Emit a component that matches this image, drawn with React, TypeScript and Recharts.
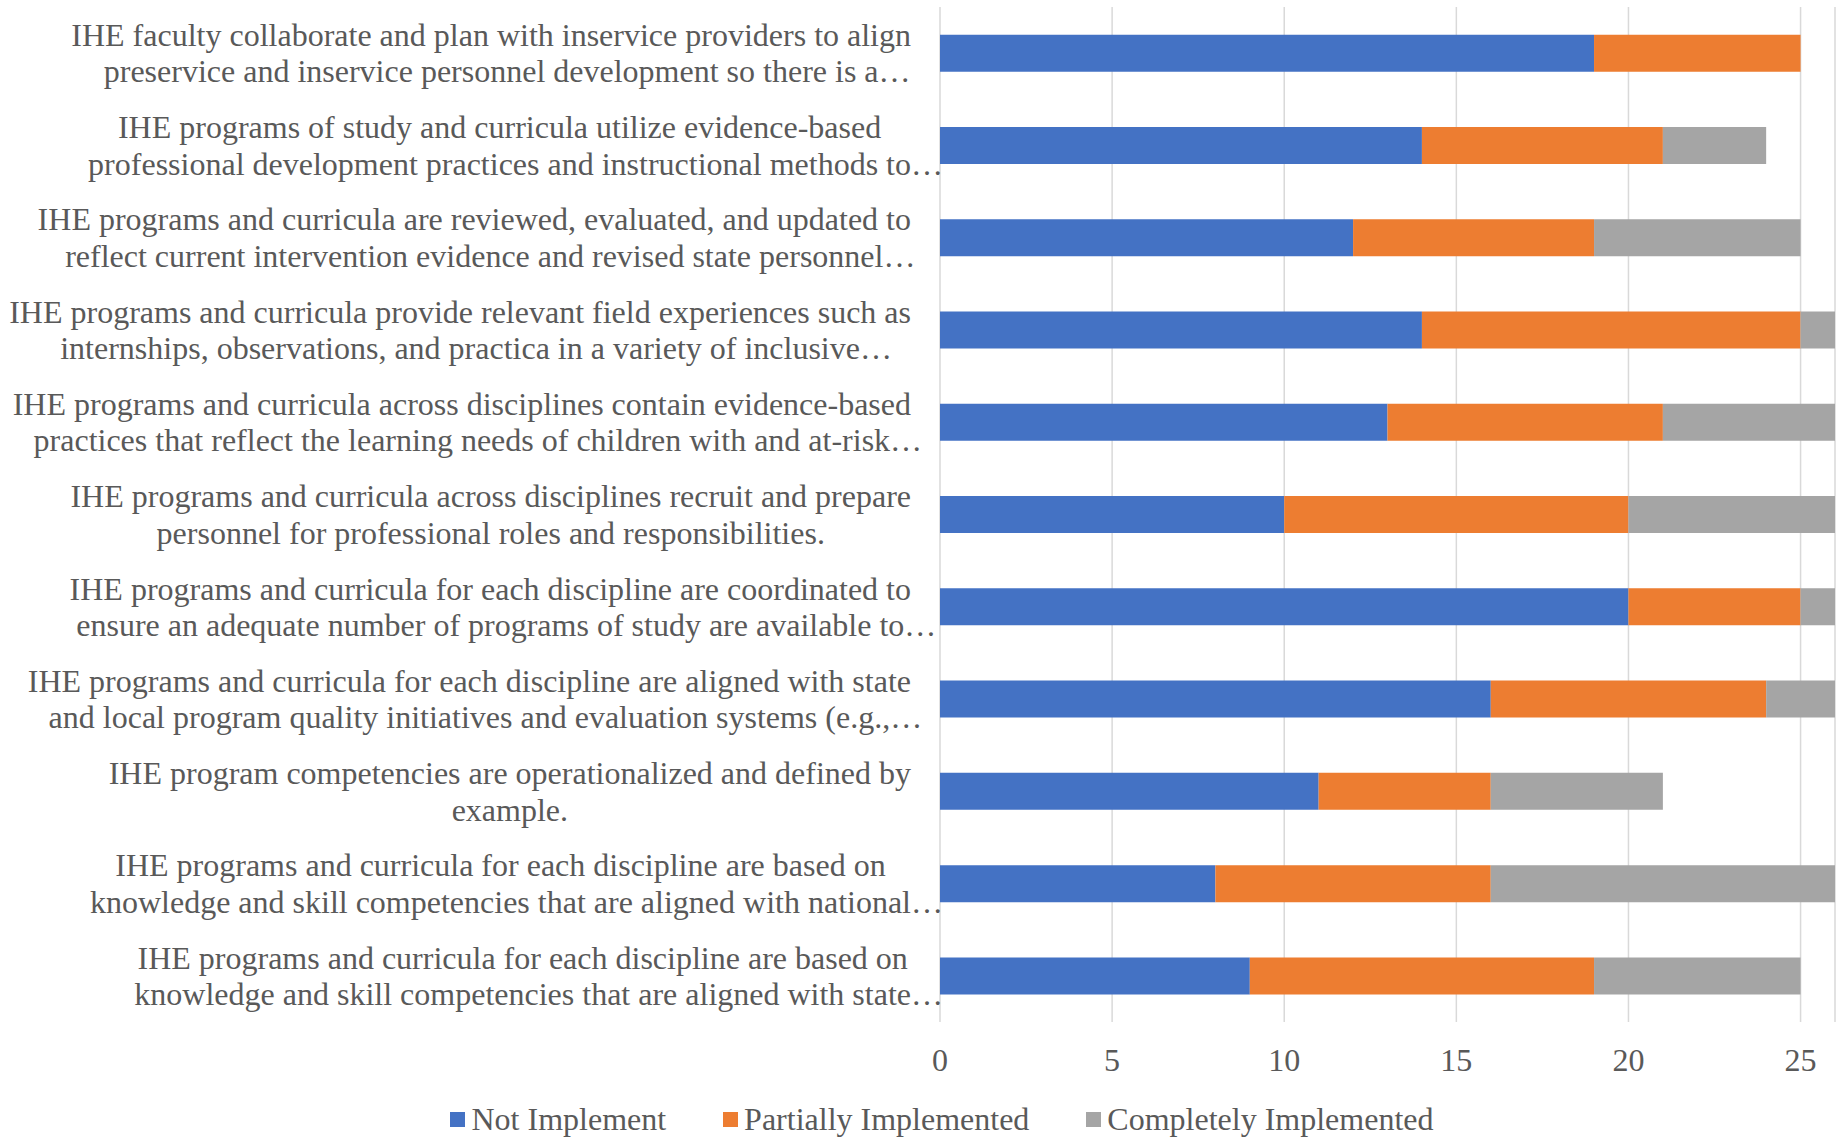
import { Bar, BarChart, CartesianGrid, Legend, XAxis, YAxis } from 'recharts'

// category labels, as they appear in the chart (two lines, Excel-style truncation)
const categories = [
    'IHE faculty collaborate and plan with inservice providers to align\npreservice and inservice personnel development so there is a…',
    'IHE programs of study and curricula utilize evidence-based\nprofessional development practices and instructional methods to…',
    'IHE programs and curricula are reviewed, evaluated, and updated to\nreflect current intervention evidence and revised state personnel…',
    'IHE programs and curricula provide relevant field experiences such as\ninternships, observations, and practica in a variety of inclusive…',
    'IHE programs and curricula across disciplines contain evidence-based\npractices that reflect the learning needs of children with and at-risk…',
    'IHE programs and curricula across disciplines recruit and prepare\npersonnel for professional roles and responsibilities.',
    'IHE programs and curricula for each discipline are coordinated to\nensure an adequate number of programs of study are available to…',
    'IHE programs and curricula for each discipline are aligned with state\nand local program quality initiatives and evaluation systems (e.g.,…',
    'IHE program competencies are operationalized and defined by\nexample.',
    'IHE programs and curricula for each discipline are based on\nknowledge and skill competencies that are aligned with national…',
    'IHE programs and curricula for each discipline are based on\nknowledge and skill competencies that are aligned with state…',
]

const notImplement = [19, 14, 12, 14, 13, 10, 20, 16, 11, 8, 9]
const partiallyImplemented = [6, 7, 7, 11, 8, 10, 5, 8, 5, 8, 10]
const completelyImplemented = [0, 3, 6, 1, 5, 6, 1, 2, 5, 10, 6]

const xTicks = [0, 5, 10, 15, 20, 25]

const seriesOrder = ['Not Implement', 'Partially Implemented', 'Completely Implemented']

const data = categories.map((c, i) => ({
    label: c,
    notImplement: notImplement[i],
    partially: partiallyImplemented[i],
    completely: completelyImplemented[i],
}))

const FONT = '"Liberation Serif", "Times New Roman", serif'
const TEXT_COLOR = '#595959'

let measureCtx: CanvasRenderingContext2D | null = null
const textWidth = (s: string) => {
    if (!measureCtx) {
        measureCtx = document.createElement('canvas').getContext('2d')
        if (measureCtx) measureCtx.font = '32px "Liberation Serif", "Times New Roman", serif'
    }
    return measureCtx ? measureCtx.measureText(s).width : s.length * 12
}

// Excel centers the wrapped lines in a box right-aligned to the axis;
// the trailing ellipsis is not counted in the line width, it just overflows
const CategoryTick = (props: any) => {
    const { x, y, payload } = props
    const lines: string[] = String(payload.value).split('\n')
    const lineH = 36.5
    const start = y - ((lines.length - 1) * lineH) / 2
    const widths = lines.map((ln) => textWidth(ln.endsWith('…') ? ln.slice(0, -1) : ln))
    const maxW = Math.max(...widths)
    const cx = x - 29 - maxW / 2
    return (
        <g>
            {lines.map((ln, i) => (
                <text
                    key={i}
                    x={cx - widths[i] / 2}
                    y={start + i * lineH}
                    textAnchor="start"
                    dominantBaseline="central"
                    fontFamily={FONT}
                    fontSize={32}
                    fill={TEXT_COLOR}
                >
                    {ln}
                </text>
            ))}
        </g>
    )
}

const renderLegend = (props: any) => {
    const payload = [...(props.payload || [])].sort(
        (a: any, b: any) => seriesOrder.indexOf(a.value) - seriesOrder.indexOf(b.value)
    )
    return (
        <div style={{ height: 36, display: 'flex', justifyContent: 'center', alignItems: 'center', fontFamily: FONT, fontSize: 32, color: TEXT_COLOR, paddingLeft: 49 }}>
            {payload.map((p: any, i: number) => (
                <div key={i} style={{ display: 'flex', alignItems: 'center', marginRight: i < payload.length - 1 ? 57 : 0 }}>
                    <span style={{ display: 'inline-block', width: 15, height: 15, background: p.color, marginRight: 6 }} />
                    <span>{p.value}</span>
                </div>
            ))}
        </div>
    )
}

const App = () => {
    return (
        <div style={{ position: 'absolute', left: 0, top: 0, background: '#fff' }}>
            <BarChart
                width={1841}
                height={1137}
                data={data}
                layout="vertical"
                margin={{ top: 7, right: 6, left: 0, bottom: 0 }}
                barCategoryGap="30%"
            >
                <CartesianGrid horizontal={false} stroke="#d9d9d9" strokeWidth={1.5} />
                <XAxis
                    type="number"
                    domain={[0, 26]}
                    ticks={xTicks}
                    axisLine={false}
                    tickLine={false}
                    tickSize={0}
                    tickMargin={26}
                    height={79}
                    tick={{ fontFamily: FONT, fontSize: 32, fill: TEXT_COLOR }}
                />
                <YAxis
                    type="category"
                    dataKey="label"
                    width={940}
                    axisLine={false}
                    tickLine={false}
                    tickSize={0}
                    tickMargin={0}
                    interval={0}
                    tick={<CategoryTick />}
                />
                <Legend verticalAlign="bottom" height={36} content={renderLegend} />
                <Bar dataKey="notImplement" name="Not Implement" stackId="a" fill="#4472C4" isAnimationActive={false} />
                <Bar dataKey="partially" name="Partially Implemented" stackId="a" fill="#ED7D31" isAnimationActive={false} />
                <Bar dataKey="completely" name="Completely Implemented" stackId="a" fill="#A5A5A5" isAnimationActive={false} />
            </BarChart>
        </div>
    )
}

export default App
